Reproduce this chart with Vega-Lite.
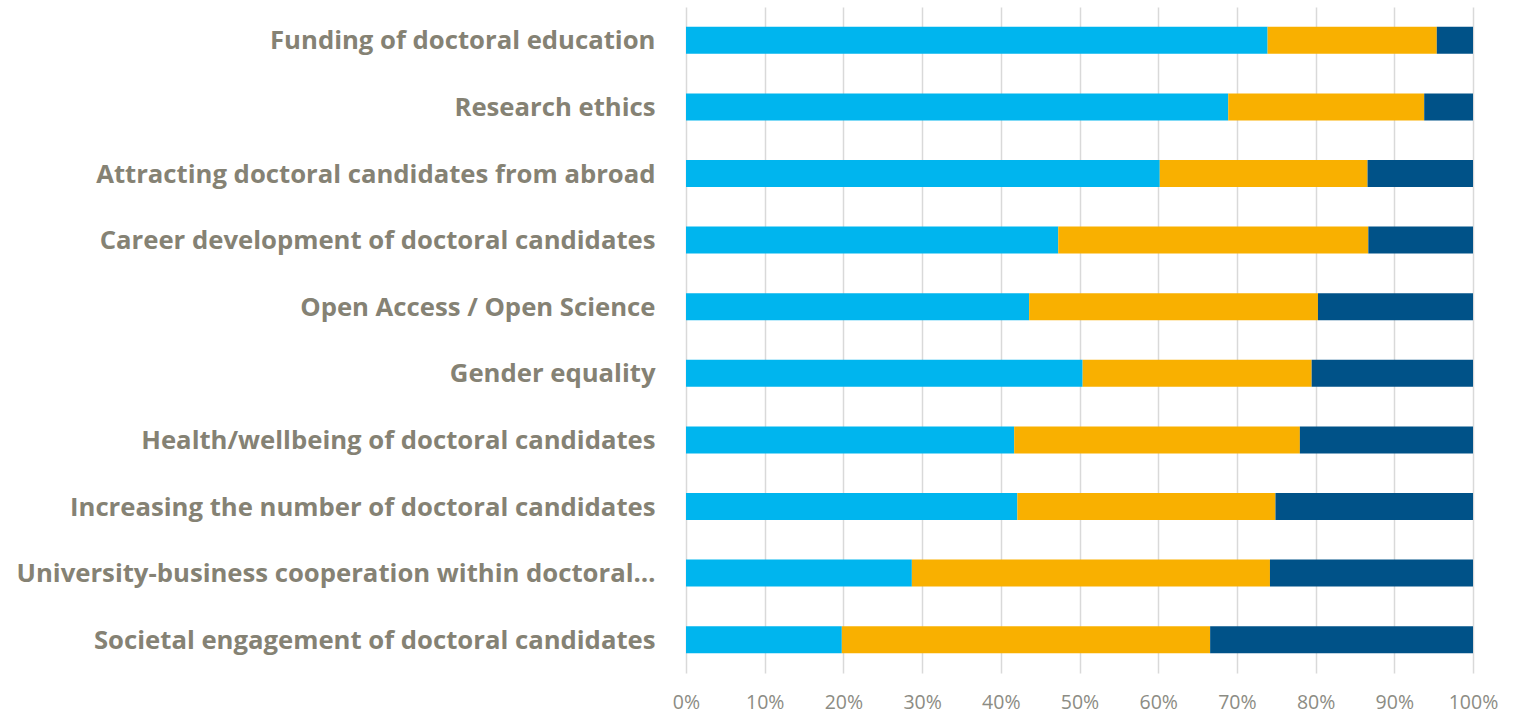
{
  "$schema": "https://vega.github.io/schema/vega-lite/v6.json",
  "autosize": {"type": "none"},
  "padding": {"left": 686, "top": 7, "right": 51, "bottom": 43},
  "width": 787,
  "height": 666,
  "background": "white",
  "config": {"view": {"stroke": null}},
  "data": {
    "values": [
      {"topic": "Funding of doctoral education", "level": "1", "share": 73.9},
      {"topic": "Funding of doctoral education", "level": "2", "share": 21.5},
      {"topic": "Funding of doctoral education", "level": "3", "share": 4.6},
      {"topic": "Research ethics", "level": "1", "share": 68.9},
      {"topic": "Research ethics", "level": "2", "share": 24.9},
      {"topic": "Research ethics", "level": "3", "share": 6.2},
      {"topic": "Attracting doctoral candidates from abroad", "level": "1", "share": 60.2},
      {"topic": "Attracting doctoral candidates from abroad", "level": "2", "share": 26.4},
      {"topic": "Attracting doctoral candidates from abroad", "level": "3", "share": 13.4},
      {"topic": "Career development of doctoral candidates", "level": "1", "share": 47.3},
      {"topic": "Career development of doctoral candidates", "level": "2", "share": 39.4},
      {"topic": "Career development of doctoral candidates", "level": "3", "share": 13.3},
      {"topic": "Open Access / Open Science", "level": "1", "share": 43.6},
      {"topic": "Open Access / Open Science", "level": "2", "share": 36.7},
      {"topic": "Open Access / Open Science", "level": "3", "share": 19.7},
      {"topic": "Gender equality", "level": "1", "share": 50.4},
      {"topic": "Gender equality", "level": "2", "share": 29.1},
      {"topic": "Gender equality", "level": "3", "share": 20.5},
      {"topic": "Health/wellbeing of doctoral candidates", "level": "1", "share": 41.7},
      {"topic": "Health/wellbeing of doctoral candidates", "level": "2", "share": 36.3},
      {"topic": "Health/wellbeing of doctoral candidates", "level": "3", "share": 22.0},
      {"topic": "Increasing the number of doctoral candidates", "level": "1", "share": 42.1},
      {"topic": "Increasing the number of doctoral candidates", "level": "2", "share": 32.8},
      {"topic": "Increasing the number of doctoral candidates", "level": "3", "share": 25.1},
      {"topic": "University-business cooperation within doctoral…", "level": "1", "share": 28.7},
      {"topic": "University-business cooperation within doctoral…", "level": "2", "share": 45.5},
      {"topic": "University-business cooperation within doctoral…", "level": "3", "share": 25.8},
      {"topic": "Societal engagement of doctoral candidates", "level": "1", "share": 19.8},
      {"topic": "Societal engagement of doctoral candidates", "level": "2", "share": 46.8},
      {"topic": "Societal engagement of doctoral candidates", "level": "3", "share": 33.4}
    ]
  },
  "mark": {"type": "bar"},
  "encoding": {
    "y": {
      "field": "topic",
      "type": "nominal",
      "sort": null,
      "title": null,
      "scale": {"paddingInner": 0.595, "paddingOuter": 0.2975},
      "axis": {
        "domain": false,
        "ticks": false,
        "labelPadding": 31,
        "labelOffset": 1,
        "labelFont": "Open Sans",
        "labelFontWeight": "bold",
        "labelFontSize": 25.7,
        "labelColor": "#858274",
        "labelLimit": 700
      }
    },
    "x": {
      "field": "share",
      "type": "quantitative",
      "stack": "zero",
      "title": null,
      "scale": {"domain": [0, 100], "nice": false},
      "axis": {
        "values": [0, 10, 20, 30, 40, 50, 60, 70, 80, 90, 100],
        "labelExpr": "datum.value + '%'",
        "domain": false,
        "ticks": false,
        "grid": true,
        "gridColor": "#D9D9D9",
        "gridWidth": 1.5,
        "labelPadding": 20,
        "labelFont": "Open Sans",
        "labelFontSize": 19.5,
        "labelColor": "#8C8C84",
        "labelFlush": false
      }
    },
    "color": {
      "field": "level",
      "type": "nominal",
      "legend": null,
      "scale": {"domain": ["1", "2", "3"], "range": ["#00B5EE", "#F9B000", "#005288"]}
    },
    "order": {"field": "level", "type": "nominal", "sort": "ascending"}
  }
}
